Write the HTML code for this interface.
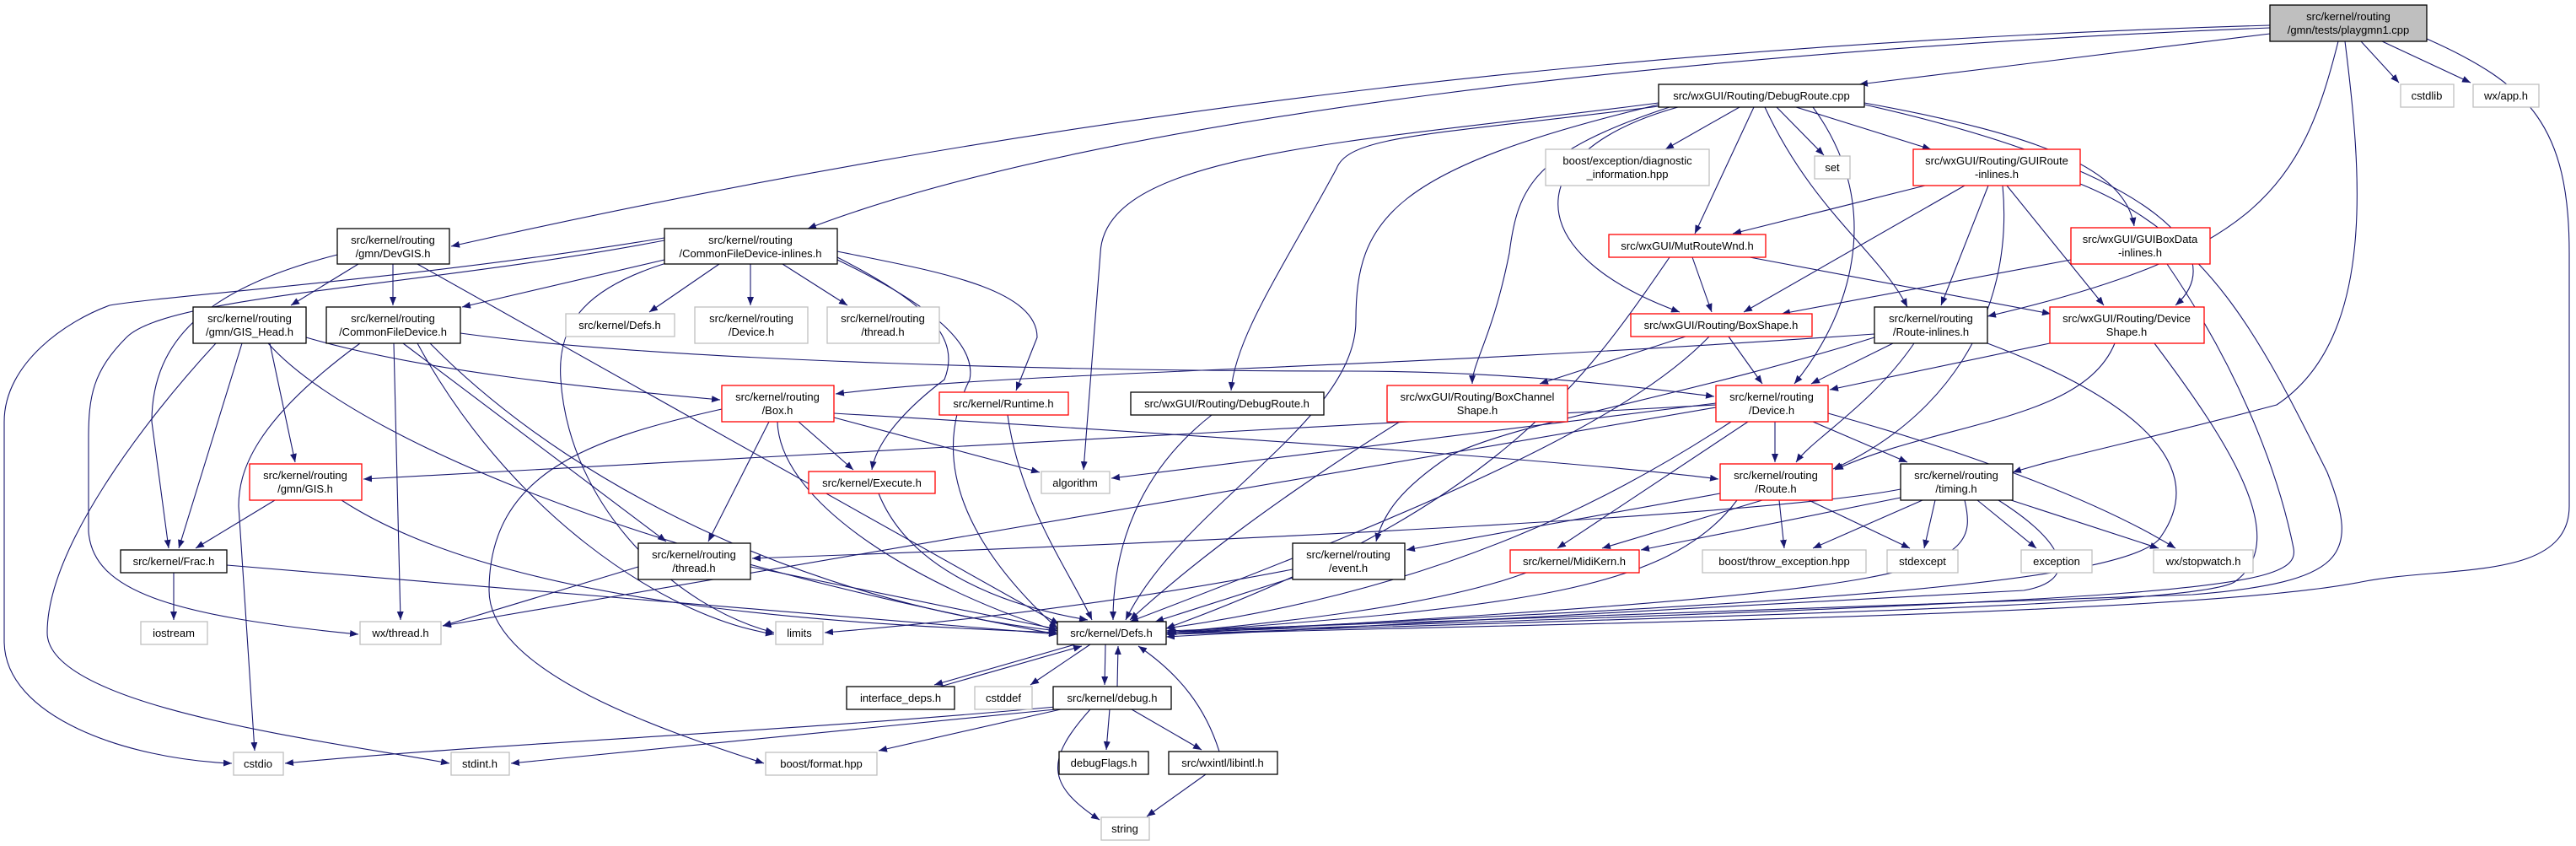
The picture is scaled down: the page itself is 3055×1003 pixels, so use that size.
<!DOCTYPE html>
<html><head><meta charset="utf-8"><style>
html,body{margin:0;padding:0;background:#fff;}
svg{display:block;}
text{font-family:"Liberation Sans",sans-serif;font-size:13px;fill:#000;text-anchor:middle;}
.e{fill:none;stroke:#191970;stroke-width:1.1;marker-end:url(#a);}
.nb{fill:#fff;stroke:#000;stroke-width:1.3;}
.nr{fill:#fff;stroke:#ff0000;stroke-width:1.3;}
.ng{fill:#fff;stroke:#bfbfbf;stroke-width:1.3;}
</style></head><body>
<svg width="3055" height="1003" viewBox="0 0 3055 1003" xmlns="http://www.w3.org/2000/svg">
<defs><marker id="a" markerUnits="userSpaceOnUse" markerWidth="12" markerHeight="10" refX="10" refY="4" orient="auto"><path d="M0,0 L10,4 L0,8 z" fill="#191970"/></marker></defs>
<g>
<!-- playgmn -->
<path class="e" d="M2692,30 C2000,50 1300,120 535,292"/>
<path class="e" d="M2692,33 C2000,60 1300,140 958,271"/>
<path class="e" d="M2692,40 L2205,100"/>
<path class="e" d="M2800,49 L2845,98"/>
<path class="e" d="M2825,49 L2930,98"/>
<path class="e" d="M2773,49 C2730,220 2680,300 2357,375"/>
<path class="e" d="M2781,49 C2800,200 2820,400 2700,480 C2550,520 2450,540 2387,560"/>
<path class="e" d="M2878,46 C3000,100 3047,150 3047,300 L3047,600 C3047,690 2900,670 2800,690 C2600,730 1800,740 1383,752"/>
<!-- DebugRoute.cpp -->
<path class="e" d="M1967,122 C1600,170 1310,180 1305,300 L1285,557"/>
<path class="e" d="M1967,124 C1650,200 1608,260 1608,380 C1608,500 1400,600 1335,735"/>
<path class="e" d="M1967,126 C1700,160 1600,160 1585,200 C1520,320 1465,400 1460,463"/>
<path class="e" d="M1980,127 C1820,180 1800,220 1790,300 C1770,400 1746,430 1746,455"/>
<path class="e" d="M1990,127 C1800,180 1800,300 1992,370"/>
<path class="e" d="M2063,127 L1975,177"/>
<path class="e" d="M2080,127 L2010,277"/>
<path class="e" d="M2107,127 L2163,184"/>
<path class="e" d="M2130,127 L2290,177"/>
<path class="e" d="M2093,127 C2150,250 2230,300 2262,364"/>
<path class="e" d="M2150,127 C2240,250 2190,380 2128,455"/>
<path class="e" d="M2211,122 C2420,160 2520,200 2531,268"/>
<path class="e" d="M2211,124 C2550,200 2650,300 2580,362"/>
<!-- GUIRoute -->
<path class="e" d="M2283,220 L2055,277"/>
<path class="e" d="M2330,220 L2068,370"/>
<path class="e" d="M2358,220 L2302,362"/>
<path class="e" d="M2380,220 L2495,362"/>
<path class="e" d="M2375,220 C2390,380 2300,500 2174,556"/>
<path class="e" d="M2467,218 C2620,280 2680,400 2760,560 C2800,660 2780,690 2600,705 L1383,748"/>
<!-- GUIBoxData -->
<path class="e" d="M2456,308 L2113,372"/>
<path class="e" d="M2570,313 C2650,430 2700,550 2720,650 C2730,700 2600,710 1383,750"/>
<!-- MutRouteWnd -->
<path class="e" d="M2007,305 L2030,370"/>
<path class="e" d="M2075,305 L2432,372"/>
<path class="e" d="M1980,305 C1880,450 1780,600 1383,745"/>
<!-- BoxShape -->
<path class="e" d="M1999,399 L1826,455"/>
<path class="e" d="M2050,399 L2090,455"/>
<path class="e" d="M2027,399 C1930,500 1700,600 1340,737"/>
<!-- DeviceShape -->
<path class="e" d="M2431,407 L2170,462"/>
<path class="e" d="M2508,407 C2470,500 2300,500 2176,557"/>
<path class="e" d="M2555,407 C2640,520 2720,640 2650,690 C2600,720 2000,730 1383,752"/>
<!-- RouteInl -->
<path class="e" d="M2223,396 C1600,440 1200,440 991,467"/>
<path class="e" d="M2245,407 L2148,455"/>
<path class="e" d="M2270,407 C2220,480 2150,520 2130,548"/>
<path class="e" d="M2223,400 C2000,470 1800,500 1720,540 C1660,580 1640,610 1632,642"/>
<path class="e" d="M2357,407 C2550,480 2620,560 2560,640 C2500,700 2000,720 1383,750"/>
<!-- Device red -->
<path class="e" d="M2035,480 L431,568"/>
<path class="e" d="M2035,478 L1318,567"/>
<path class="e" d="M2035,483 L525,742"/>
<path class="e" d="M2105,500 L2105,548"/>
<path class="e" d="M2150,500 L2262,548"/>
<path class="e" d="M2168,490 C2350,540 2500,600 2580,650"/>
<path class="e" d="M2073,500 L1847,650"/>
<path class="e" d="M2053,500 C1900,600 1700,700 1383,745"/>
<path class="e" d="M546,395 C800,430 1300,440 1600,440 C1800,440 1950,460 2033,470"/>
<path class="e" d="M989,490 C1500,520 1900,550 2038,568"/>
<path class="e" d="M363,400 C500,440 700,460 854,474"/>
<!-- Route -->
<path class="e" d="M2040,585 L1668,652"/>
<path class="e" d="M2090,593 L1900,650"/>
<path class="e" d="M2110,593 L2116,650"/>
<path class="e" d="M2145,593 L2265,650"/>
<path class="e" d="M2060,593 C1980,700 1800,720 1383,750"/>
<!-- timing -->
<path class="e" d="M2254,580 C2100,610 1500,640 892,662"/>
<path class="e" d="M2254,590 L1946,652"/>
<path class="e" d="M2280,593 L2150,650"/>
<path class="e" d="M2295,593 L2282,650"/>
<path class="e" d="M2345,593 L2415,650"/>
<path class="e" d="M2385,593 L2560,650"/>
<path class="e" d="M2330,593 C2350,680 2310,700 1383,752"/>
<path class="e" d="M2370,593 C2460,650 2460,690 2400,700 L1383,755"/>
<!-- misc to Defs -->
<path class="e" d="M1810,679 C1700,720 1500,740 1385,750"/>
<path class="e" d="M1533,685 L1370,737"/>
<path class="e" d="M1533,675 C1300,720 1100,740 978,750"/>
<path class="e" d="M1042,585 C1080,680 1200,720 1290,735"/>
<path class="e" d="M1195,492 C1210,600 1270,680 1295,735"/>
<path class="e" d="M1437,492 C1350,560 1320,650 1320,735"/>
<path class="e" d="M1660,500 C1500,600 1400,680 1340,735"/>
<!-- Box -->
<path class="e" d="M947,500 L1012,557"/>
<path class="e" d="M912,500 L840,642"/>
<path class="e" d="M989,495 L1233,560"/>
<path class="e" d="M922,500 C925,600 1100,700 1254,748"/>
<path class="e" d="M856,485 C700,520 580,560 580,700 C580,800 800,870 906,905"/>
<!-- CFD-inlines -->
<path class="e" d="M788,308 L548,364"/>
<path class="e" d="M853,313 L770,370"/>
<path class="e" d="M890,313 L890,362"/>
<path class="e" d="M928,313 L1005,362"/>
<path class="e" d="M993,298 C1100,320 1230,340 1230,400 L1205,463"/>
<path class="e" d="M993,305 C1100,360 1140,400 1120,450 C1080,480 1040,520 1034,557"/>
<path class="e" d="M993,308 C1080,350 1160,400 1150,450 C1100,550 1150,650 1254,745"/>
<path class="e" d="M788,282 C500,330 200,350 130,362 C80,380 5,430 5,500 L5,760 C5,850 150,900 275,905"/>
<path class="e" d="M788,285 C500,340 200,350 150,400 C110,440 105,470 105,520 L105,630 C110,700 200,730 425,752"/>
<path class="e" d="M790,312 C700,340 660,380 665,450 C675,600 800,720 918,750"/>
<!-- DevGIS -->
<path class="e" d="M425,313 L345,362"/>
<path class="e" d="M466,313 L466,362"/>
<path class="e" d="M400,302 C250,340 180,400 180,500 L200,650"/>
<path class="e" d="M495,313 L1256,740"/>
<!-- GIS_Head -->
<path class="e" d="M320,407 L350,548"/>
<path class="e" d="M287,407 L212,650"/>
<path class="e" d="M256,407 C170,500 56,650 56,750 C56,840 400,880 533,905"/>
<path class="e" d="M318,407 C400,500 700,650 1254,752"/>
<!-- CFD -->
<path class="e" d="M427,407 C300,500 283,560 283,600 L302,890"/>
<path class="e" d="M467,407 L475,735"/>
<path class="e" d="M478,407 L790,642"/>
<path class="e" d="M495,407 C600,600 780,730 918,752"/>
<path class="e" d="M510,407 C700,600 1000,720 1254,748"/>
<!-- GIS, Frac, threadR -->
<path class="e" d="M326,593 L232,650"/>
<path class="e" d="M405,593 C600,720 1000,740 1254,750"/>
<path class="e" d="M206,679 L206,735"/>
<path class="e" d="M269,670 L1254,752"/>
<path class="e" d="M757,672 L525,742"/>
<path class="e" d="M890,672 L1254,746"/>
<!-- Defs / debug -->
<path class="e" d="M1275,764 L1108,812"/>
<path class="e" d="M1115,814 L1283,766"/>
<path class="e" d="M1293,764 L1222,812"/>
<path class="e" d="M1311,764 L1310,812"/>
<path class="e" d="M1325,814 L1326,766"/>
<path class="e" d="M1446,891 C1430,840 1400,800 1350,766"/>
<path class="e" d="M1252,838 C900,870 600,880 338,905"/>
<path class="e" d="M1252,841 L606,905"/>
<path class="e" d="M1258,841 L1042,890"/>
<path class="e" d="M1293,841 C1240,900 1240,930 1304,972"/>
<path class="e" d="M1316,841 L1312,889"/>
<path class="e" d="M1342,841 L1425,889"/>
<path class="e" d="M1430,918 L1360,968"/>
</g>
<g>
<rect x="2692" y="6" width="186" height="43" fill="#bfbfbf" stroke="#000" stroke-width="1.3"/>
<text x="2785" y="24">src/kernel/routing</text><text x="2785" y="40">/gmn/tests/playgmn1.cpp</text>
<rect class="nb" x="1967" y="100" width="244" height="27"/><text x="2089" y="118">src/wxGUI/Routing/DebugRoute.cpp</text>
<rect class="ng" x="2847" y="100" width="63" height="27"/><text x="2878" y="118">cstdlib</text>
<rect class="ng" x="2933" y="100" width="78" height="27"/><text x="2972" y="118">wx/app.h</text>
<rect class="ng" x="1833" y="177" width="194" height="43"/><text x="1930" y="195">boost/exception/diagnostic</text><text x="1930" y="211">_information.hpp</text>
<rect class="ng" x="2152" y="185" width="42" height="27"/><text x="2173" y="203">set</text>
<rect class="nr" x="2269" y="177" width="198" height="43"/><text x="2368" y="195">src/wxGUI/Routing/GUIRoute</text><text x="2368" y="211">-inlines.h</text>
<rect class="nb" x="400" y="271" width="133" height="42"/><text x="466" y="289">src/kernel/routing</text><text x="466" y="305">/gmn/DevGIS.h</text>
<rect class="nb" x="788" y="271" width="205" height="42"/><text x="890" y="289">src/kernel/routing</text><text x="890" y="305">/CommonFileDevice-inlines.h</text>
<rect class="nr" x="1908" y="278" width="186" height="27"/><text x="2001" y="296">src/wxGUI/MutRouteWnd.h</text>
<rect class="nr" x="2456" y="270" width="165" height="43"/><text x="2538" y="288">src/wxGUI/GUIBoxData</text><text x="2538" y="304">-inlines.h</text>
<rect class="nb" x="229" y="364" width="134" height="43"/><text x="296" y="382">src/kernel/routing</text><text x="296" y="398">/gmn/GIS_Head.h</text>
<rect class="nb" x="387" y="364" width="159" height="43"/><text x="466" y="382">src/kernel/routing</text><text x="466" y="398">/CommonFileDevice.h</text>
<rect class="ng" x="671" y="372" width="129" height="27"/><text x="735" y="390">src/kernel/Defs.h</text>
<rect class="ng" x="824" y="364" width="134" height="43"/><text x="891" y="382">src/kernel/routing</text><text x="891" y="398">/Device.h</text>
<rect class="ng" x="981" y="364" width="133" height="43"/><text x="1047" y="382">src/kernel/routing</text><text x="1047" y="398">/thread.h</text>
<rect class="nr" x="1934" y="372" width="215" height="27"/><text x="2041" y="390">src/wxGUI/Routing/BoxShape.h</text>
<rect class="nb" x="2223" y="364" width="134" height="43"/><text x="2290" y="382">src/kernel/routing</text><text x="2290" y="398">/Route-inlines.h</text>
<rect class="nr" x="2431" y="364" width="183" height="43"/><text x="2522" y="382">src/wxGUI/Routing/Device</text><text x="2522" y="398">Shape.h</text>
<rect class="nr" x="856" y="457" width="133" height="43"/><text x="922" y="475">src/kernel/routing</text><text x="922" y="491">/Box.h</text>
<rect class="nr" x="1114" y="465" width="153" height="27"/><text x="1190" y="483">src/kernel/Runtime.h</text>
<rect class="nb" x="1341" y="465" width="229" height="27"/><text x="1455" y="483">src/wxGUI/Routing/DebugRoute.h</text>
<rect class="nr" x="1645" y="457" width="214" height="43"/><text x="1752" y="475">src/wxGUI/Routing/BoxChannel</text><text x="1752" y="491">Shape.h</text>
<rect class="nr" x="2035" y="457" width="133" height="43"/><text x="2101" y="475">src/kernel/routing</text><text x="2101" y="491">/Device.h</text>
<rect class="nr" x="296" y="550" width="133" height="43"/><text x="362" y="568">src/kernel/routing</text><text x="362" y="584">/gmn/GIS.h</text>
<rect class="nr" x="959" y="559" width="150" height="26"/><text x="1034" y="577">src/kernel/Execute.h</text>
<rect class="ng" x="1235" y="559" width="81" height="26"/><text x="1275" y="577">algorithm</text>
<rect class="nr" x="2040" y="550" width="133" height="43"/><text x="2106" y="568">src/kernel/routing</text><text x="2106" y="584">/Route.h</text>
<rect class="nb" x="2254" y="550" width="133" height="43"/><text x="2320" y="568">src/kernel/routing</text><text x="2320" y="584">/timing.h</text>
<rect class="nb" x="143" y="652" width="126" height="27"/><text x="206" y="670">src/kernel/Frac.h</text>
<rect class="nb" x="757" y="644" width="133" height="43"/><text x="823" y="662">src/kernel/routing</text><text x="823" y="678">/thread.h</text>
<rect class="nb" x="1533" y="644" width="133" height="43"/><text x="1599" y="662">src/kernel/routing</text><text x="1599" y="678">/event.h</text>
<rect class="nr" x="1791" y="652" width="153" height="27"/><text x="1867" y="670">src/kernel/MidiKern.h</text>
<rect class="ng" x="2019" y="652" width="194" height="27"/><text x="2116" y="670">boost/throw_exception.hpp</text>
<rect class="ng" x="2238" y="652" width="84" height="27"/><text x="2280" y="670">stdexcept</text>
<rect class="ng" x="2397" y="652" width="84" height="27"/><text x="2439" y="670">exception</text>
<rect class="ng" x="2554" y="652" width="118" height="27"/><text x="2613" y="670">wx/stopwatch.h</text>
<rect class="ng" x="167" y="737" width="79" height="27"/><text x="206" y="755">iostream</text>
<rect class="ng" x="427" y="737" width="96" height="27"/><text x="475" y="755">wx/thread.h</text>
<rect class="ng" x="920" y="737" width="56" height="27"/><text x="948" y="755">limits</text>
<rect class="nb" x="1254" y="737" width="129" height="27"/><text x="1318" y="755">src/kernel/Defs.h</text>
<rect class="nb" x="1004" y="814" width="128" height="27"/><text x="1068" y="832">interface_deps.h</text>
<rect class="ng" x="1156" y="814" width="68" height="27"/><text x="1190" y="832">cstddef</text>
<rect class="nb" x="1249" y="814" width="140" height="27"/><text x="1319" y="832">src/kernel/debug.h</text>
<rect class="ng" x="277" y="892" width="59" height="27"/><text x="306" y="910">cstdio</text>
<rect class="ng" x="535" y="892" width="69" height="27"/><text x="569" y="910">stdint.h</text>
<rect class="ng" x="908" y="892" width="132" height="27"/><text x="974" y="910">boost/format.hpp</text>
<rect class="nb" x="1256" y="891" width="106" height="27"/><text x="1309" y="909">debugFlags.h</text>
<rect class="nb" x="1386" y="891" width="129" height="27"/><text x="1450" y="909">src/wxintl/libintl.h</text>
<rect class="ng" x="1306" y="969" width="57" height="27"/><text x="1334" y="987">string</text>
</g>
</svg>
</body></html>
